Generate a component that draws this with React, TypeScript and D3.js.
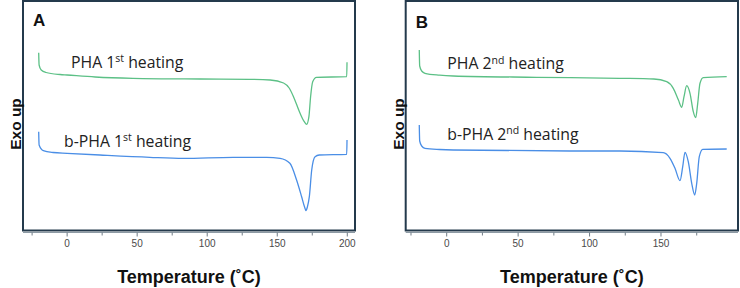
import React from 'react'
import * as d3 from 'd3'

// DSC thermograms, heat flow in arbitrary units (exo up)
const tempPha1 = [-20.3, -20.0, -18.5, -15, -5, 0, 20, 47, 95, 130, 145, 154.5, 158.5, 161.6, 166.2, 169.3, 171, 172.6, 173.8, 175.3, 178, 199.6, 199.8]
const flowPha1 = [17.73, 16.5, 16.0, 15.75, 15.55, 15.5, 15.3, 15.17, 15.1, 15.07, 15.0, 14.7, 14.2, 13.33, 11.7, 10.83, 10.57, 11.33, 13.33, 14.83, 15.27, 15.33, 16.77]

const tempBpha1 = [-20.3, -20.0, -17, -10, 0, 23.4, 59, 83, 118.5, 142.5, 152, 159, 163.8, 167.4, 169.5, 170.5, 171.5, 172.9, 174.6, 177, 180, 199.6, 199.8]
const flowBpha1 = [9.83, 8.5, 7.93, 7.75, 7.67, 7.5, 7.27, 7.17, 7.27, 7.27, 7.17, 6.67, 5.0, 3.33, 2.3, 1.95, 2.3, 3.33, 6.0, 7.33, 7.5, 7.57, 9.0]

const tempPha2 = [-19.2, -18.9, -17.5, -15.2, -5, 4.6, 63, 121, 145, 154, 158.6, 162.2, 164.5, 166.1, 168, 170.3, 172.6, 174.3, 175.7, 177.3, 179.6, 196]
const flowPha2 = [18.0, 16.4, 15.9, 15.67, 15.48, 15.4, 15.27, 15.17, 15.1, 14.83, 14.17, 13.0, 12.27, 13.33, 14.43, 13.67, 11.83, 11.23, 12.67, 14.67, 15.23, 15.33]

const tempBpha2 = [-19.2, -18.9, -17.5, -15.2, -5, 4.6, 86, 121.3, 151.6, 156.3, 159.8, 163.3, 165.2, 166.8, 169.1, 171.5, 173.6, 175, 176.8, 179.2, 196]
const flowBpha2 = [10.5, 8.9, 8.4, 8.17, 8.05, 8.0, 7.9, 7.9, 7.73, 7.17, 6.17, 4.93, 6.33, 7.77, 6.83, 4.67, 3.5, 4.67, 7.33, 8.07, 8.1]

const ticksA = [-25, 0, 25, 50, 75, 100, 125, 150, 175, 200]
const ticksB = [-25, 0, 25, 50, 75, 100, 125, 150, 175]

const GREEN = '#5cc086'
const BLUE = '#4a8ee6'
const FRAME = '#243a4c'
const LABEL_FONT = "'Open Sans', sans-serif"
const AXIS_FONT = "'Liberation Sans', Arial, sans-serif"

type Series = { temp: number[]; flow: number[]; color: string }
type Note = { x: number; y: number; main: string; sup: string; rest: string }

interface PanelProps {
  letter: string
  left: number
  right: number
  domain: [number, number]
  ticks: number[]
  series: Series[]
  notes: Note[]
  letterY: number
}

const top = 1
const bottom = 230.5

const Panel: React.FC<PanelProps> = ({ letter, left, right, domain, ticks, series, notes, letterY }) => {
  const x = d3.scaleLinear().domain(domain).range([left, right])
  const y = d3.scaleLinear().domain([0, 23]).range([230, 0])
  const line = d3
    .line<[number, number]>()
    .x((d) => x(d[0]))
    .y((d) => y(d[1]))
    .curve(d3.curveMonotoneX)

  const axisY = 232.5
  const mid = (left + right) / 2

  return (
    <g>
      {series.map((s, i) => (
        <path
          key={i}
          d={line(s.temp.map((t, j) => [t, s.flow[j]] as [number, number])) || ''}
          fill="none"
          stroke={s.color}
          strokeWidth={1.3}
        />
      ))}
      <rect x={left} y={top} width={right - left} height={bottom - top} fill="none" stroke={FRAME} strokeWidth={2} />
      <line x1={left} x2={right} y1={axisY} y2={axisY} stroke="#8d9aa4" strokeWidth={1} />
      {ticks.map((t) => (
        <g key={t}>
          <line x1={x(t)} x2={x(t)} y1={axisY} y2={axisY + (t % 50 === 0 ? 4 : 3)} stroke="#6f7c86" strokeWidth={1} />
          {t % 50 === 0 && (
            <text x={x(t)} y={247} textAnchor="middle" fontSize={10} fontFamily={AXIS_FONT} fill="#4a4a4a">
              {t}
            </text>
          )}
        </g>
      ))}
      <text x={left + 10} y={letterY} fontSize={17} fontWeight="bold" fontFamily={AXIS_FONT} fill="#111">
        {letter}
      </text>
      {notes.map((n, i) => (
        <text key={i} x={n.x} y={n.y} fontSize={15.8} fontFamily={LABEL_FONT} fill="#222">
          {n.main}
          <tspan fontSize={10.5} dy={-5.5}>{n.sup}</tspan>
          <tspan dy={5.5}>{n.rest}</tspan>
        </text>
      ))}
      <text
        transform={`translate(${left - 2},124) rotate(-90)`}
        textAnchor="middle"
        fontSize={15.5}
        fontWeight="bold"
        fontFamily={AXIS_FONT}
        fill="#111"
      >
        Exo up
      </text>
      <text x={mid} y={283} textAnchor="middle" fontSize={18} fontWeight="bold" fontFamily={AXIS_FONT} fill="#111">
        Temperature (˚C)
      </text>
    </g>
  )
}

const App: React.FC = () => {
  return (
    <svg
      width={740}
      height={288}
      style={{ position: 'absolute', left: 0, top: 0, background: '#fff' }}
    >
      <Panel
        letter="A"
        left={23}
        right={355}
        domain={[-31.5, 205.5]}
        ticks={ticksA}
        letterY={26}
        series={[
          { temp: tempPha1, flow: flowPha1, color: GREEN },
          { temp: tempBpha1, flow: flowBpha1, color: BLUE },
        ]}
        notes={[
          { x: 71, y: 67.7, main: 'PHA 1', sup: 'st', rest: ' heating' },
          { x: 64, y: 146.7, main: 'b-PHA 1', sup: 'st', rest: ' heating' },
        ]}
      />
      <Panel
        letter="B"
        left={405.7}
        right={738}
        domain={[-28.7, 203.9]}
        ticks={ticksB}
        letterY={28}
        series={[
          { temp: tempPha2, flow: flowPha2, color: GREEN },
          { temp: tempBpha2, flow: flowBpha2, color: BLUE },
        ]}
        notes={[
          { x: 447.3, y: 69.3, main: 'PHA 2', sup: 'nd', rest: ' heating' },
          { x: 447.3, y: 139.5, main: 'b-PHA 2', sup: 'nd', rest: ' heating' },
        ]}
      />
    </svg>
  )
}

export default App
